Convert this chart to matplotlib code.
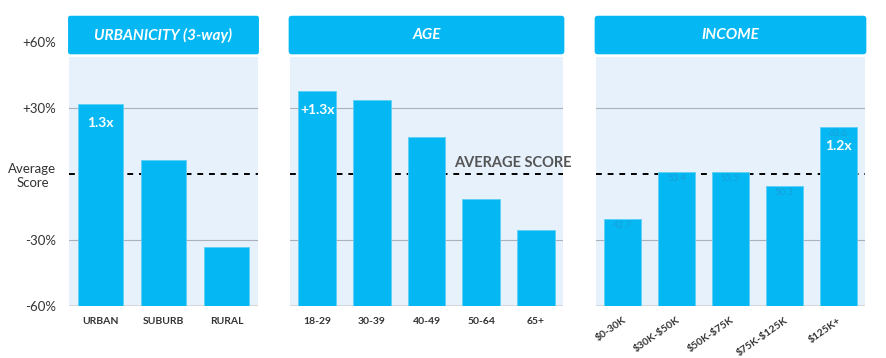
import matplotlib
matplotlib.use('Agg')
import matplotlib.pyplot as plt
from matplotlib.patches import FancyBboxPatch, Rectangle

plt.rcParams['font.family'] = ['Lato', 'DejaVu Sans']

# data (percent vs. average score)
titles = ['URBANICITY (3-way)', 'AGE', 'INCOME']
urban_cats = ['URBAN', 'SUBURB', 'RURAL']
urban_vals = [31.8, 6.4, -33.0]
age_cats = ['18-29', '30-39', '40-49', '50-64', '65+']
age_vals = [37.7, 33.6, 16.8, -11.4, -25.5]
income_cats = ['$0-30K', '$30K-$50K', '$50K-$75K', '$75K-$125K', '$125K+']
income_vals = [-20.5, 0.8, 0.9, -5.3, 21.4]
income_scores = ['42.7', '53.4', '53.5', '50.3', '63.6']
callouts = [{0: '1.3x'}, {0: '+1.3x'}, {4: '1.2x'}]

ytick_vals = [-60, -30, 0, 30, 60]
ytick_labels = ['-60%', '-30%', 'Average\nScore', '+30%', '+60%']

BAR = '#05b8f3'
PANEL_BG = '#e6f1fc'
GRID = '#aab1bb'
TEXT = '#333333'

fig = plt.figure(figsize=(8.87, 3.58), dpi=100)
fig.set_facecolor('white')

# axes boxes in pixels: (left, right)
boxes = [(69, 258), (290, 563), (596, 865)]
bottom = (358 - 306) / 358
height = (306 - 14) / 358
ymin, ymax = -60, 72.7
bg_top = 53.2

panels = [(urban_cats, urban_vals), (age_cats, age_vals), (income_cats, income_vals)]

for i, ((cats, vals), (l, r)) in enumerate(zip(panels, boxes)):
    ax = fig.add_axes([l / 887, bottom, (r - l) / 887, height])
    ax.set_facecolor('none')
    n = len(cats)
    ax.set_xlim(-0.5, n - 0.5)
    ax.set_ylim(ymin, ymax)

    # panel background
    ax.add_patch(Rectangle((-0.5, ymin), n, bg_top - ymin, facecolor=PANEL_BG,
                           edgecolor='none', zorder=0))
    # header
    ax.add_patch(FancyBboxPatch((-0.005, 0.862), 1.01, 0.132, transform=ax.transAxes,
                                boxstyle='round,pad=0,rounding_size=0.012',
                                facecolor=BAR, edgecolor='none', clip_on=False, zorder=3,
                                mutation_aspect=(r - l) / 292))
    ax.text(0.5, 0.928, titles[i], transform=ax.transAxes, ha='center', va='center',
            color='white', fontsize=11, fontweight='bold', fontstyle='italic', zorder=4)

    for g in (30, -30):
        ax.axhline(g, color=GRID, lw=0.8, zorder=1)
    ax.axhline(0, color='black', lw=1.4, ls=(0, (3, 3)), zorder=1)
    ax.axhline(ymin, color='#cfd3d8', lw=1.2, zorder=1)

    x = list(range(n))
    w = 0.71 if n == 3 else 0.69
    ax.bar(x, [v - ymin for v in vals], bottom=ymin, width=w, color=BAR,
           edgecolor='#5fd0f5', linewidth=0.6, zorder=2)

    if i == 2:
        for k, s in enumerate(income_scores):
            ax.text(k, vals[k] - 3, s, ha='center', va='center', color='#189fd8',
                    fontsize=7, zorder=4)
    for k, lab in callouts[i].items():
        ax.text(k, vals[k] - 8.5, lab, ha='center', va='center', color='white',
                fontsize=10, fontweight='bold', zorder=5)

    for s in ax.spines.values():
        s.set_visible(False)
    ax.set_xticks(x)
    labels = [c.replace('$', r'\$') for c in cats]
    if i == 2:
        ax.set_xticklabels(labels, rotation=35, ha='right', rotation_mode='anchor',
                           fontsize=7.5, fontweight='bold', color=TEXT)
        ax.tick_params(axis='x', length=0, pad=7)
    else:
        ax.set_xticklabels(labels, fontsize=7.5, fontweight='bold', color=TEXT)
        ax.tick_params(axis='x', length=0, pad=8)

    if i == 0:
        ax.set_yticks(ytick_vals)
        ax.set_yticklabels(ytick_labels, fontsize=9.5, color=TEXT)
        for t in ax.get_yticklabels():
            t.set_multialignment('center')
        ax.tick_params(axis='y', length=0, pad=9)
    else:
        ax.set_yticks([])

    if i == 1:
        ax.text(2.5, 5, 'AVERAGE SCORE', ha='left', va='center', color='#555555',
                fontsize=10.5, fontweight='bold', zorder=5, clip_on=False)

fig.savefig('out.png', dpi=100)
